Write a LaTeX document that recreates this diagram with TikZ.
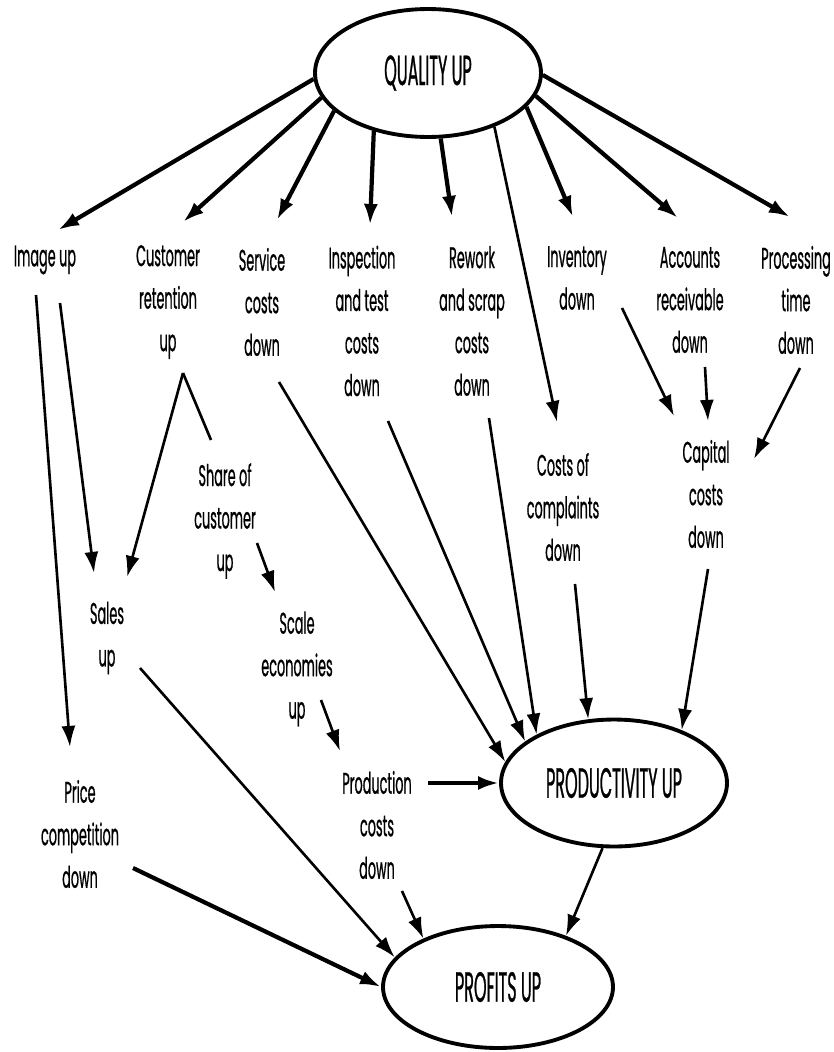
\documentclass[tikz,border=0pt]{standalone}
\usepackage{fontspec}
\setmainfont[FakeStretch=0.43, FakeBold=0.6]{Poppins}
\newfontfamily\ovalfont[FakeStretch=0.38, FakeBold=0.6]{Poppins}
\usetikzlibrary{arrows.meta,shapes.geometric}

\begin{document}
\begin{tikzpicture}[x=0.02cm, y=-0.02cm,
  lbl/.style={align=center, font=\fontsize{17}{24.2}\selectfont},
  oval/.style={ellipse, draw, line width=2.2pt, inner sep=0pt, font=\ovalfont\fontsize{24}{26}\selectfont},
  arr/.style={-{Latex[length=12pt, width=8pt]}, line width=1.5pt},
  bold arr/.style={arr, line width=2.4pt}]
\useasboundingbox (0,0) rectangle (833,1052);

\node[oval, minimum width=4.52cm, minimum height=2.56cm] (quality) at (428,73) {QUALITY UP};
\node[oval, minimum width=4.52cm, minimum height=2.54cm] (productivity) at (614,783) {PRODUCTIVITY UP};
\node[oval, minimum width=4.6cm, minimum height=2.44cm] (profits) at (498,987) {PROFITS UP};

\node[lbl] (img) at (45,260) {Image up};
\node[lbl] (cret) at (168,302) {Customer\\retention\\up};
\node[lbl] (serv) at (262,302) {Service\\costs\\down};
\node[lbl] (insp) at (362,321) {Inspection\\and test\\costs\\down};
\node[lbl] (rew) at (472,321) {Rework\\and scrap\\costs\\down};
\node[lbl] (inv) at (577,278) {Inventory\\down};
\node[lbl] (acc) at (690,300) {Accounts\\receivable\\down};
\node[lbl] (proc) at (796,300) {Processing\\time\\down};
\node[lbl] (compl) at (563,507) {Costs of\\complaints\\down};
\node[lbl] (cap) at (706,494) {Capital\\costs\\down};
\node[lbl] (share) at (225,521) {Share of\\customer\\up};
\node[lbl] (sales) at (107,638) {Sales\\up};
\node[lbl] (scale) at (297,669) {Scale\\economies\\up};
\node[lbl] (prodc) at (377,825) {Production\\costs\\down};
\node[lbl] (price) at (80,834) {Price\\competition\\down};

\draw[bold arr] (quality.183) -- ([shift={(13,-30)}]img.center);
\draw[bold arr] (quality.193) -- ([shift={(15,-80)}]cret.center);
\draw[bold arr] (quality.202) -- ([shift={(15,-82)}]serv.center);
\draw[bold arr] (quality.227) -- ([shift={(8,-96)}]insp.center);
\draw[bold arr] (quality.281) -- ([shift={(-20,-104)}]rew.center);
\draw[arr] (quality.321) -- ([shift={(-6,-85)}]compl.center);
\draw[bold arr] (quality.341) -- ([shift={(-4,-61)}]inv.center);
\draw[bold arr] (quality.348) -- ([shift={(-12,-82)}]acc.center);
\draw[bold arr] (quality.359) -- ([shift={(-6,-83)}]proc.center);

\draw[arr] ([shift={(15,43)}]img.center) -- ([shift={(-13,-65)}]sales.center);
\draw[arr] ([shift={(-9,35)}]img.center) -- ([shift={(-10,-87)}]price.center);
\coordinate (fork) at ([shift={(15,71)}]cret.center);
\draw[arr] (fork) -- ([shift={(20,-61)}]sales.center);
\draw[line width=1.5pt] (fork) -- ([shift={(-14,-81)}]share.center);
\draw[arr] ([shift={(32,22)}]share.center) -- ([shift={(-22,-77)}]scale.center);
\draw[arr] ([shift={(24,31)}]scale.center) -- ([shift={(-37,-74)}]prodc.center);

\draw[bold arr] ([shift={(51,-42)}]prodc.center) -- (productivity.180);
\draw[arr] ([shift={(17,80)}]serv.center) -- (productivity.169);
\draw[arr] ([shift={(26,100)}]insp.center) -- (productivity.155);
\draw[arr] ([shift={(17,97)}]rew.center) -- (productivity.148);
\draw[arr] ([shift={(12,77)}]compl.center) -- (productivity.112);
\draw[arr] ([shift={(2,75)}]cap.center) -- (productivity.38);
\draw[arr] ([shift={(45,30)}]inv.center) -- ([shift={(-32,-78)}]cap.center);
\draw[arr] ([shift={(15,67)}]acc.center) -- ([shift={(2,-73)}]cap.center);
\draw[arr] ([shift={(4,68)}]proc.center) -- ([shift={(48,-35)}]cap.center);

\draw[arr] ([shift={(33,30)}]sales.center) -- (profits.164);
\draw[bold arr] ([shift={(53,34)}]price.center) -- (profits.180);
\draw[arr] ([shift={(25,66)}]prodc.center) -- (profits.147);
\draw[arr] (productivity.260) -- (profits.37);
\end{tikzpicture}
\end{document}
